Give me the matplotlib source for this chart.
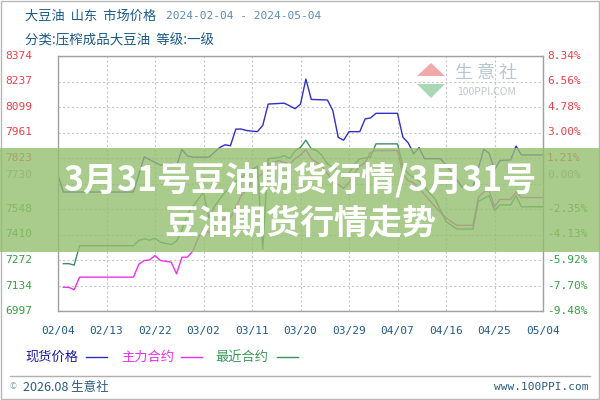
import numpy as np
import matplotlib.pyplot as plt
import matplotlib.transforms as mtransforms
from matplotlib.patches import Rectangle, Polygon
from matplotlib.lines import Line2D

plt.rcParams['font.family'] = ['Noto Sans CJK SC', 'DejaVu Sans']

# ---- data (days counted from 2024-02-04) ----
x_labels = ['02/04', '02/13', '02/22', '03/02', '03/11', '03/20',
            '03/29', '04/07', '04/16', '04/25', '05/04']

base_price = 7730
pct_ticks = [8.34, 6.56, 4.78, 3.00, 1.21, 0.00, -2.35, -4.13, -5.92, -7.70, -9.48]
left_labels = ['8374', '8237', '8099', '7961', '7823', '7730',
               '7548', '7410', '7272', '7134', '6997']

# 现货价格
spot_day = [0, 1, 14, 16, 17, 18, 19, 21, 22, 23, 24, 25, 28, 30, 31, 32, 33, 34,
            35, 37, 38, 39, 42, 43, 44, 45, 46, 47, 50, 51, 52, 53, 54, 56, 57,
            58, 59, 63, 64, 65, 66, 67, 68, 71, 73, 75, 77, 79, 80, 81, 82, 84,
            85, 86, 90]
spot_val = [7730, 7640, 7640, 7830, 7815, 7800, 7785, 7795, 7780, 7870, 7835,
            7828, 7828, 7880, 7895, 7890, 7980, 7980, 7972, 7966, 8000, 8115,
            8120, 8105, 8090, 8115, 8250, 8140, 8137, 8080, 7935, 7920, 7966,
            7966, 8035, 8040, 8065, 8065, 7936, 7905, 7846, 7880, 7820, 7820,
            7750, 7665, 7665, 7870, 7850, 7760, 7810, 7813, 7888, 7840, 7840]

# 主力合约
main_day = [1, 2, 3, 4, 14, 15, 16, 17, 18, 19, 21, 22, 23, 24, 25, 26, 27, 28,
            29, 30, 31, 32, 33, 34, 35, 36, 37, 38, 39, 40, 41, 42, 43, 44, 45,
            46, 47, 48, 49, 50, 51, 52, 53, 54, 55, 56, 57, 58, 59, 63, 64, 65,
            66, 67, 70, 72, 74, 77, 78, 79, 80, 81, 82, 84, 85, 86, 90]
main_val = [7125, 7125, 7112, 7180, 7180, 7250, 7270, 7273, 7297, 7270, 7261,
            7198, 7288, 7288, 7320, 7390, 7440, 7420, 7460, 7480, 7500, 7500,
            7560, 7620, 7650, 7700, 7720, 7740, 7790, 7800, 7810, 7800, 7790,
            7820, 7840, 7870, 7820, 7800, 7780, 7740, 7700, 7680, 7660, 7690,
            7740, 7780, 7800, 7855, 7864, 7864, 7738, 7700, 7690, 7660, 7560,
            7500, 7460, 7460, 7610, 7640, 7650, 7560, 7600, 7600, 7640, 7610,
            7610]

# 最近合约
near_day = [1, 2, 3, 4, 14, 15, 16, 17, 18, 19, 21, 22, 23, 24, 25, 26, 27, 28,
            29, 30, 31, 32, 33, 35, 36, 37, 38, 39, 41, 42, 43, 44, 45, 46, 47,
            48, 49, 50, 52, 53, 54, 55, 56, 58, 59, 63, 64, 65, 67, 70, 72, 74,
            77, 78, 80, 81, 82, 84, 85, 86, 90]
near_val = [7253, 7253, 7245, 7350, 7350, 7378, 7387, 7380, 7390, 7369, 7356,
            7375, 7432, 7520, 7560, 7600, 7640, 7500, 7560, 7600, 7640, 7660,
            7700, 7740, 7760, 7780, 7330, 7820, 7826, 7837, 7820, 7863, 7881,
            7920, 7873, 7864, 7837, 7792, 7756, 7720, 7740, 7790, 7819, 7828,
            7900, 7900, 7780, 7738, 7700, 7600, 7480, 7440, 7440, 7590, 7620,
            7540, 7570, 7570, 7620, 7560, 7560]

W, H = 600, 400


def fx(x):
    return x / W


def fy(y):
    return 1 - y / H


fig = plt.figure(figsize=(6, 4), dpi=100)
ax = fig.add_axes([fx(58), fy(311), (543 - 58) / W, (311 - 56) / H])

ax.plot(near_day, near_val, color='#3d9060', lw=1.0)
ax.plot(main_day, main_val, color='#ee30ee', lw=1.0)
ax.plot(spot_day, spot_val, color='#3030c8', lw=1.0)

ymin = base_price * (1 + pct_ticks[-1] / 100)
ymax = base_price * (1 + pct_ticks[0] / 100)
ax.set_ylim(ymin, ymax)
ax.set_xlim(0, 90)

xt = np.arange(0, 91, 9)
ax.set_xticks(xt)
ax.set_xticklabels(x_labels, family='DejaVu Sans Mono', fontsize=8, color='#1f5a8c')
ax.tick_params(axis='x', length=0, pad=11)
ax.set_yticks(np.linspace(ymin, ymax, 11))
ax.tick_params(axis='y', length=0, labelleft=False)
ax.grid(True, ls=(0, (2, 2)), color='#c8c8c8', lw=0.8)
for s in ax.spines.values():
    s.set_color('#a0a0a0')
    s.set_linewidth(1.0)

# y labels, left (price) and right (percent)
tl = mtransforms.blended_transform_factory(fig.transFigure, ax.transData)
for p, lab in zip(pct_ticks, left_labels):
    v = base_price * (1 + p / 100)
    if p > 0:
        c = '#e84048'
    elif p == 0:
        c = '#a0a0a0'
    else:
        c = '#36a040'
    ax.text(fx(5), v, lab, transform=tl, ha='left', va='center',
            family='DejaVu Sans Mono', fontsize=8, color=c)
    ax.text(fx(547), v, '%.2f%%' % p, transform=tl, ha='left', va='center',
            family='DejaVu Sans Mono', fontsize=8, color=c)

# header
fig.text(fx(25), fy(16), '大豆油  山东  市场价格', fontsize=9.5, color='#1a5a8a',
         va='center', ha='left')
fig.text(fx(166), fy(16), '2024-02-04 - 2024-05-04', fontsize=8,
         family='DejaVu Sans Mono', color='#5a8ab4', va='center', ha='left')
fig.text(fx(25), fy(40), '分类:压榨成品大豆油  等级:一级', fontsize=9.7,
         color='#1a5a8a', va='center', ha='left')

# watermark
fig.add_artist(Polygon([(fx(417), fy(76)), (fx(431), fy(63)), (fx(445), fy(76))],
                       closed=True, transform=fig.transFigure,
                       facecolor='#f0a8a8', edgecolor='none', zorder=1))
fig.add_artist(Polygon([(fx(417), fy(84)), (fx(431), fy(98)), (fx(445), fy(84))],
                       closed=True, transform=fig.transFigure,
                       facecolor='#a8d8b4', edgecolor='none', zorder=1))
fig.text(fx(486), fy(73), '生 意 社', fontsize=13, color='#b8c6d4',
         ha='center', va='center', zorder=2)
fig.text(fx(487), fy(92), '100PPI.COM', fontsize=7.5, color='#c0c6cc',
         ha='center', va='center', zorder=2)

# legend
leg_items = [('现货价格', '#1a1aa0', '#3030c8', 25, 86),
             ('主力合约', '#ee30ee', '#ee30ee', 121, 181),
             ('最近合约', '#3a9a5a', '#3d9060', 215, 277)]
for txt, tc, lc, tx, lx in leg_items:
    fig.text(fx(tx), fy(357), txt, fontsize=9.5, color=tc, ha='left', va='center')
    fig.add_artist(Line2D([fx(lx), fx(lx + 21)], [fy(357), fy(357)],
                          color=lc, lw=1.0, transform=fig.transFigure))

# footer
fig.add_artist(Line2D([fx(10), fx(590)], [fy(376), fy(376)], color='#b0b0b0',
                      lw=1.0, transform=fig.transFigure))
fig.text(fx(10), fy(387), '©', fontsize=6, color='#8aa0b4', ha='left', va='center')
fig.text(fx(23), fy(387), '2026.08 生意社', fontsize=9, color='#2a5a80',
         ha='left', va='center')
fig.text(fx(589), fy(387), 'www.100PPI.com', fontsize=8, family='DejaVu Sans Mono',
         color='#2a5a80', ha='right', va='center')

# outer border
fig.add_artist(Rectangle((0.0015, 0.002), 0.997, 0.996, transform=fig.transFigure,
                         fill=False, edgecolor='#b8b8b8', lw=1.0))

# overlay banner
fig.add_artist(Rectangle((0, fy(252)), 1, 104 / H, transform=fig.transFigure,
                         facecolor=(148 / 255, 190 / 255, 110 / 255), alpha=0.8,
                         edgecolor='none', zorder=5))
fig.text(0.5, fy(180), '3月31号豆油期货行情/3月31号', fontsize=24.5, fontweight='bold',
         color='white', ha='center', va='center', zorder=6)
fig.text(0.5, fy(223), '豆油期货行情走势', fontsize=24.5, fontweight='bold',
         color='white', ha='center', va='center', zorder=6)

fig.savefig('out.png', dpi=100)
